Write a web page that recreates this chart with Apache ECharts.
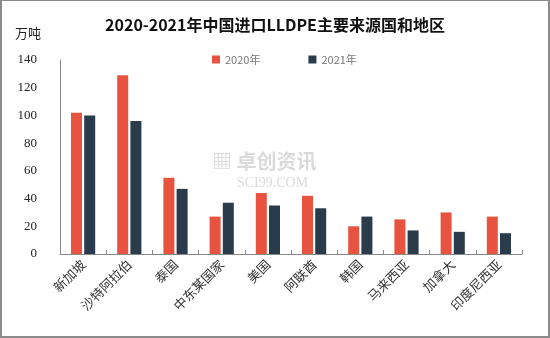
<!DOCTYPE html>
<html><head><meta charset="utf-8">
<script src="https://cdn.jsdelivr.net/npm/echarts@6/dist/echarts.min.js"></script>
<style>
html,body{margin:0;padding:0;background:#fff;}
#c{width:550px;height:338px;box-sizing:border-box;border:2px solid #8a8a8a;border-top-width:1px;}
</style></head>
<body><div id="c"></div>
<script>
const categories = ['新加坡','沙特阿拉伯','泰国','中东某国家','美国','阿联酋','韩国','马来西亚','加拿大','印度尼西亚'];
const values2020 = [102, 129, 55, 27, 44, 42, 20, 25, 30, 27];
const values2021 = [100, 96, 47, 37, 35, 33, 27, 17, 16, 15];
const seriesNames = ['2020年','2021年'];
const yTicks = [0, 20, 40, 60, 80, 100, 120, 140];

const chart = echarts.init(document.getElementById('c'), null, {renderer:'canvas'});
chart.setOption({
  backgroundColor:'#fff',
  animation:false,
  title:{
    text:'2020-2021年中国进口LLDPE主要来源国和地区',
    left:'center', top:11,
    textStyle:{fontFamily:'Noto Sans CJK SC', fontSize:16, fontWeight:'bold', color:'#111'}
  },
  legend:{
    data:seriesNames, top:48, left:205, itemGap:48,
    itemWidth:8, itemHeight:8, icon:'rect',
    textStyle:{fontFamily:'Noto Sans CJK SC', fontSize:11, color:'#777'}
  },
  graphic:[
    {type:'text', left:13, top:26, style:{text:'万吨', font:'13px "Noto Sans CJK SC"', fill:'#222'}},
    {type:'text', left:210, top:150, style:{text:'▦ 卓创资讯', font:'bold 20px "Noto Sans CJK SC"', fill:'rgba(150,150,150,0.35)'}},
    {type:'text', left:235, top:175, style:{text:'SCI99.COM', font:'14px "Liberation Serif"', fill:'rgba(150,150,150,0.35)'}}
  ],
  grid:{left:58, right:26, top:59, bottom:82},
  xAxis:{
    type:'category', data:categories,
    axisLine:{lineStyle:{color:'#888'}},
    axisTick:{show:true, inside:true, length:4, lineStyle:{color:'#888'}},
    axisLabel:{rotate:45, interval:0, margin:8, fontFamily:'Noto Sans CJK SC', fontSize:13, color:'#333'}
  },
  yAxis:{
    type:'value', min:0, max:140, interval:20,
    axisLine:{show:true, lineStyle:{color:'#888'}},
    axisTick:{show:false},
    splitLine:{show:false},
    axisLabel:{margin:23, fontFamily:'Liberation Serif', fontSize:13, color:'#222'}
  },
  series:[
    {name:seriesNames[0], type:'bar', data:values2020, barWidth:11, barGap:'20%', itemStyle:{color:'#E8533F'}},
    {name:seriesNames[1], type:'bar', data:values2021, barWidth:11, barGap:'20%', itemStyle:{color:'#2A3B4C'}}
  ]
});
</script></body></html>
